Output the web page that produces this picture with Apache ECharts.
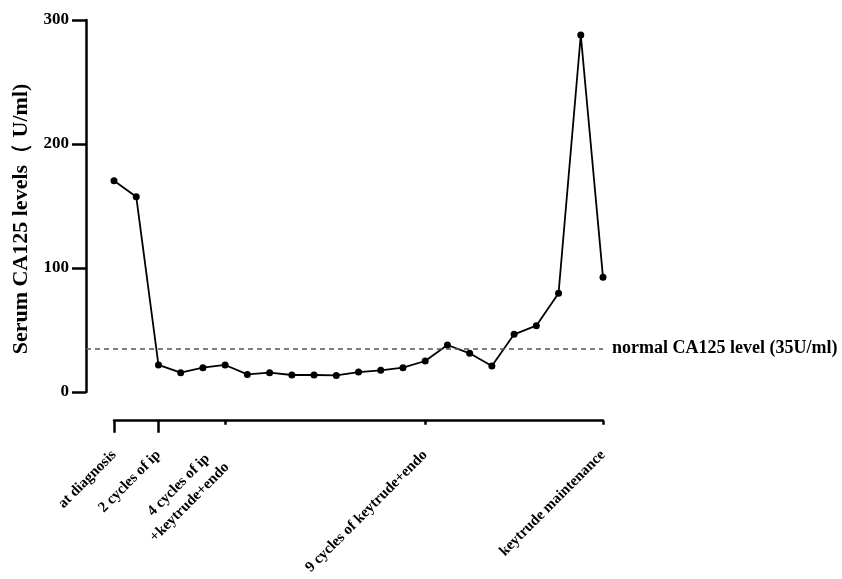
<!DOCTYPE html>
<html><head><meta charset="utf-8">
<script src="https://cdn.jsdelivr.net/npm/echarts@6/dist/echarts.min.js"></script>
<style>html,body{margin:0;padding:0;background:#fff}#c{width:842px;height:579px}</style>
</head><body><div id="c"></div>
<script>
const ca125 = [170.4,157.5,21.8,15.6,19.6,21.8,14.2,15.6,13.7,13.7,13.4,16.1,17.5,19.6,25,37.9,31.2,21,46.5,53.5,79.6,287.9,92.5];
const milestoneIndex = [0,2,5,14,22];
const milestoneLabels = ['at diagnosis','2 cycles of ip','4 cycles of ip    \n+keytrude+endo  ','9 cycles of keytrude+endo','keytrude maintenance'];
const longTickIndex = [0,2];
const shortTickIndex = [5,14,22];
const yTicks = [0,100,200,300];
const normalLevel = 35;
const normalLabel = 'normal CA125 level (35U/ml)';
const yTitle = 'Serum CA125 levels\uFF08 U/ml)';

const SERIF = '"Liberation Serif","Times New Roman",serif';
const catData = ca125.map((v,i)=>{const k=milestoneIndex.indexOf(i);return k>=0?milestoneLabels[k]:'';});
const chart = echarts.init(document.getElementById('c'));
chart.setOption({
  animation:false,
  grid:[
    {left:86,right:239,top:20,bottom:187},
    {left:114,right:239,top:300,bottom:157}
  ],
  xAxis:[
    {type:'value',gridIndex:0,min:-1.26,max:ca125.length-1,show:false},
    {type:'category',gridIndex:1,boundaryGap:false,data:catData,position:'bottom',
     axisLine:{onZero:false,lineStyle:{color:'#000',width:2.5}},
     axisTick:{interval:(i)=>shortTickIndex.includes(i),length:4,lineStyle:{color:'#000',width:2.5}},
     axisLabel:{interval:(i)=>milestoneIndex.includes(i),rotate:45,margin:32,color:'#000',fontFamily:SERIF,fontWeight:'bold',fontSize:15,lineHeight:20},
     splitLine:{show:false}},
    {type:'category',gridIndex:1,boundaryGap:false,data:catData,position:'bottom',
     axisLine:{show:false,onZero:false},
     axisTick:{interval:(i)=>longTickIndex.includes(i),length:12,lineStyle:{color:'#000',width:2.5}},
     axisLabel:{show:false},splitLine:{show:false}}
  ],
  yAxis:[
    {type:'value',gridIndex:0,min:yTicks[0],max:yTicks[yTicks.length-1],interval:yTicks[1]-yTicks[0],
     axisLine:{show:true,onZero:false,lineStyle:{color:'#000',width:2.5}},
     axisTick:{show:true,length:14,lineStyle:{color:'#000',width:2.5}},
     axisLabel:{margin:17,color:'#000',fontFamily:SERIF,fontWeight:'bold',fontSize:17},
     splitLine:{show:false},
     name:yTitle,nameLocation:'middle',nameGap:53,
     nameTextStyle:{color:'#000',fontFamily:SERIF,fontWeight:'bold',fontSize:22,padding:[0,26,0,0]}},
    {type:'value',gridIndex:1,show:false}
  ],
  series:[{
    type:'line',xAxisIndex:0,yAxisIndex:0,
    data:ca125.map((v,i)=>[i,v]),
    symbol:'circle',symbolSize:7,
    itemStyle:{color:'#000'},
    lineStyle:{color:'#000',width:1.8},
    markLine:{silent:true,symbol:'none',
      data:[{yAxis:normalLevel}],
      lineStyle:{type:[5,4],color:'#555',width:1.5},
      label:{position:'end',distance:9,formatter:normalLabel,color:'#000',fontFamily:SERIF,fontWeight:'bold',fontSize:18}}
  }]
});
</script></body></html>
